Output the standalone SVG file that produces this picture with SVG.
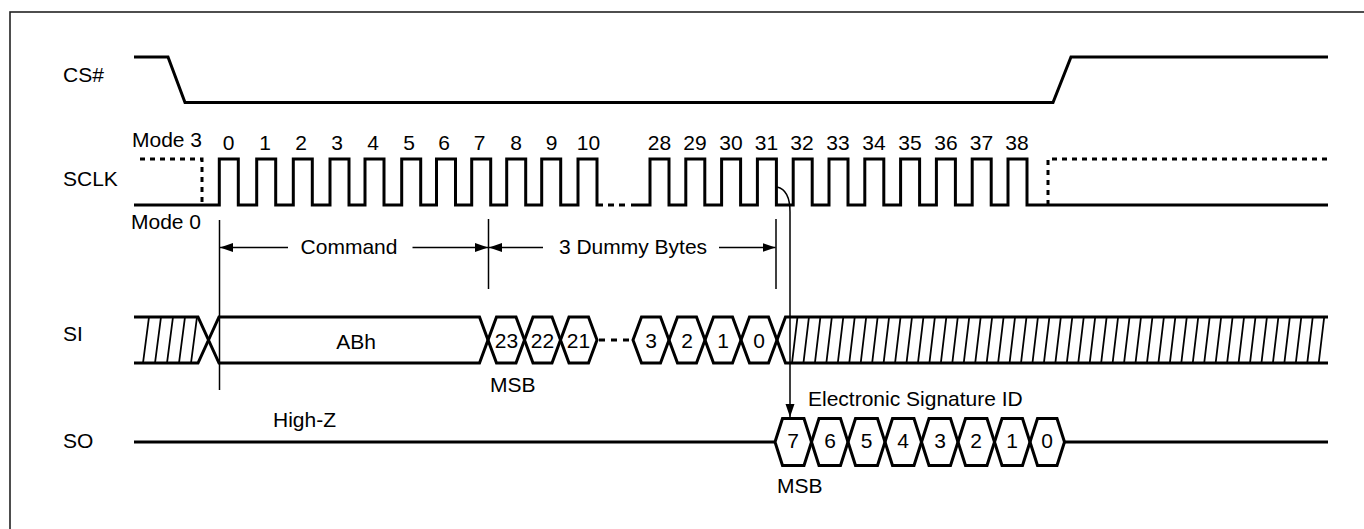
<svg xmlns="http://www.w3.org/2000/svg" width="1364" height="529" viewBox="0 0 1364 529">
<style>
  text { font-family: "Liberation Sans", Arial, sans-serif; font-size: 21px; fill: #000; }
  .mid { text-anchor: middle; }
  .sig { fill: none; stroke: #000; stroke-width: 3; stroke-linejoin: miter; stroke-linecap: butt; }
  .dot { fill: none; stroke: #000; stroke-width: 3; stroke-dasharray: 5 5; }
  .hatch { fill: none; stroke: #000; stroke-width: 1.8; }
  .thin { fill: none; stroke: #000; stroke-width: 1.5; }
</style>
<defs>
  <marker id="ah" markerUnits="userSpaceOnUse" markerWidth="14" markerHeight="10" refX="13" refY="4.5" orient="auto">
    <path d="M0,0 L13,4.5 L0,9 Z" fill="#000"/>
  </marker>
</defs>
<rect x="10" y="12" width="1360" height="530" fill="none" stroke="#222" stroke-width="1.6"/>

<g id="labels">
  <text x="63" y="82">CS#</text>
  <text x="63" y="186">SCLK</text>
  <text x="63" y="341">SI</text>
  <text x="63" y="448">SO</text>
</g>

<g id="cs">
  <path class="sig" d="M134,57 H168 L185,102.5 H1053 L1071,57 H1328"/>
</g>

<g id="sclk">
  <text x="132" y="147">Mode 3</text>
  <text x="131" y="229">Mode 0</text>
  <path class="dot" d="M140,159 H202 V205"/>
  <path class="sig" d="M134,205 H219.3 V159 H238.3 V205 H256.7 V159 H275.7 V205 H293.3 V159 H312.3 V205 H330 V159 H349 V205 H365 V159 H384 V205 H401.7 V159 H420.7 V205 H436.5 V159 H455.5 V205 H471.7 V159 H490.7 V205 H506.7 V159 H525.7 V205 H541.7 V159 H560.7 V205 H578 V159 H597 V205 H603"/>
  <path class="sig" d="M608,205 H614 M619,205 H625"/>
  <path class="sig" d="M631,205 H650 V159 H669 V205 H685.8 V159 H704.8 V205 H721.6 V159 H740.6 V205 H757.4 V159 H776.4 V205 H793.2 V159 H812.2 V205 H829 V159 H848 V205 H864.8 V159 H883.8 V205 H900.6 V159 H919.6 V205 H936.4 V159 H955.4 V205 H972.2 V159 H991.2 V205 H1008 V159 H1027 V205 H1328"/>
  <path class="dot" d="M1048,205 V159 H1330"/>
  <g class="mid">
    <text x="228.5" y="150">0</text>
    <text x="265" y="150">1</text>
    <text x="301" y="150">2</text>
    <text x="337" y="150">3</text>
    <text x="373" y="150">4</text>
    <text x="409" y="150">5</text>
    <text x="444" y="150">6</text>
    <text x="479.5" y="150">7</text>
    <text x="516" y="150">8</text>
    <text x="551.5" y="150">9</text>
    <text x="588.5" y="150">10</text>
    <text x="659.5" y="150">28</text>
    <text x="695" y="150">29</text>
    <text x="731" y="150">30</text>
    <text x="766.5" y="150">31</text>
    <text x="802" y="150">32</text>
    <text x="838" y="150">33</text>
    <text x="874" y="150">34</text>
    <text x="910" y="150">35</text>
    <text x="946" y="150">36</text>
    <text x="981.5" y="150">37</text>
    <text x="1017" y="150">38</text>
  </g>
</g>

<g id="si">
  <path class="sig" d="M134,317 H198 L208.5,340 L198,363 H134"/>
  <path class="hatch" d="M143,363 l6,-46 m6,46 l6,-46 m6,46 l6,-46 m6,46 l6,-46 m6,46 l6,-46"/>
  <polygon class="sig" points="208.5,340 219,317 479.5,317 488,340 479.5,363 219,363"/>
  <text class="mid" x="356" y="348.5">ABh</text>
  <polygon class="sig" points="488,340 496.5,317 516,317 524.5,340 516,363 496.5,363"/>
  <polygon class="sig" points="524.5,340 533,317 552,317 560.5,340 552,363 533,363"/>
  <polygon class="sig" points="560.5,340 569,317 588.5,317 597,340 588.5,363 569,363"/>
  <path class="sig" d="M599,340 H605 M611,340 H617 M623,340 H629"/>
  <polygon class="sig" points="633,340 641.5,317 660.5,317 669,340 660.5,363 641.5,363"/>
  <polygon class="sig" points="669,340 677.5,317 696.5,317 705,340 696.5,363 677.5,363"/>
  <polygon class="sig" points="705,340 713.5,317 732.5,317 741,340 732.5,363 713.5,363"/>
  <polygon class="sig" points="741,340 749.5,317 768.5,317 777,340 768.5,363 749.5,363"/>
  <path class="sig" d="M1328,317 H785.5 L777,340 L785.5,363 H1328"/>
  <path class="hatch" d="M792,363 l5.5,-46 m5.95,46 l5.5,-46 m5.95,46 l5.5,-46 m5.95,46 l5.5,-46 m5.95,46 l5.5,-46 m5.95,46 l5.5,-46 m5.95,46 l5.5,-46 m5.95,46 l5.5,-46 m5.95,46 l5.5,-46 m5.95,46 l5.5,-46 m5.95,46 l5.5,-46 m5.95,46 l5.5,-46 m5.95,46 l5.5,-46 m5.95,46 l5.5,-46 m5.95,46 l5.5,-46 m5.95,46 l5.5,-46 m5.95,46 l5.5,-46 m5.95,46 l5.5,-46 m5.95,46 l5.5,-46 m5.95,46 l5.5,-46 m5.95,46 l5.5,-46 m5.95,46 l5.5,-46 m5.95,46 l5.5,-46 m5.95,46 l5.5,-46 m5.95,46 l5.5,-46 m5.95,46 l5.5,-46 m5.95,46 l5.5,-46 m5.95,46 l5.5,-46 m5.95,46 l5.5,-46 m5.95,46 l5.5,-46 m5.95,46 l5.5,-46 m5.95,46 l5.5,-46 m5.95,46 l5.5,-46 m5.95,46 l5.5,-46 m5.95,46 l5.5,-46 m5.95,46 l5.5,-46 m5.95,46 l5.5,-46 m5.95,46 l5.5,-46 m5.95,46 l5.5,-46 m5.95,46 l5.5,-46 m5.95,46 l5.5,-46 m5.95,46 l5.5,-46 m5.95,46 l5.5,-46 m5.95,46 l5.5,-46 m5.95,46 l5.5,-46 m5.95,46 l5.5,-46 m5.95,46 l5.5,-46"/>
  <g class="mid">
    <text x="506.5" y="348">23</text>
    <text x="542.5" y="348">22</text>
    <text x="578.5" y="348">21</text>
    <text x="651" y="348">3</text>
    <text x="687" y="348">2</text>
    <text x="723" y="348">1</text>
    <text x="759" y="348">0</text>
  </g>
  <text x="490" y="392">MSB</text>
</g>

<g id="so">
  <text x="273" y="427">High-Z</text>
  <path class="sig" d="M134,442 H775"/>
  <polygon class="sig" points="775,442 782.5,418.5 804,418.5 811.5,442 804,465.5 782.5,465.5"/>
  <polygon class="sig" points="811.5,442 819,418.5 840.5,418.5 848,442 840.5,465.5 819,465.5"/>
  <polygon class="sig" points="848,442 855.5,418.5 877.5,418.5 885,442 877.5,465.5 855.5,465.5"/>
  <polygon class="sig" points="885,442 892.5,418.5 914,418.5 921.5,442 914,465.5 892.5,465.5"/>
  <polygon class="sig" points="921.5,442 929,418.5 950.5,418.5 958,442 950.5,465.5 929,465.5"/>
  <polygon class="sig" points="958,442 965.5,418.5 987,418.5 994.5,442 987,465.5 965.5,465.5"/>
  <polygon class="sig" points="994.5,442 1002,418.5 1022.5,418.5 1030,442 1022.5,465.5 1002,465.5"/>
  <polygon class="sig" points="1030,442 1037.5,418.5 1057,418.5 1064.5,442 1057,465.5 1037.5,465.5"/>
  <path class="sig" d="M1064.5,442 H1328"/>
  <g class="mid">
    <text x="793" y="448">7</text>
    <text x="830" y="448">6</text>
    <text x="866.5" y="448">5</text>
    <text x="903" y="448">4</text>
    <text x="940" y="448">3</text>
    <text x="976" y="448">2</text>
    <text x="1012" y="448">1</text>
    <text x="1047" y="448">0</text>
  </g>
  <text x="808" y="406">Electronic Signature ID</text>
  <text x="777" y="493">MSB</text>
</g>

<g id="connectors">
  <path class="thin" d="M219.5,220 V390"/>
  <path class="thin" d="M488.5,219 V289"/>
  <path class="thin" d="M776,219 V289"/>
  <path class="thin" d="M288,247.5 H220" marker-end="url(#ah)"/>
  <path class="thin" d="M412.5,247.5 H488" marker-end="url(#ah)"/>
  <path class="thin" d="M543,247.5 H489" marker-end="url(#ah)"/>
  <path class="thin" d="M719,247.5 H775.5" marker-end="url(#ah)"/>
  <g class="mid">
    <text x="349" y="254">Command</text>
    <text x="633" y="254">3 Dummy Bytes</text>
  </g>
  <path class="thin" d="M777,187 C786,189 790,198 790,212 V417" marker-end="url(#ah)"/>
</g>
</svg>
